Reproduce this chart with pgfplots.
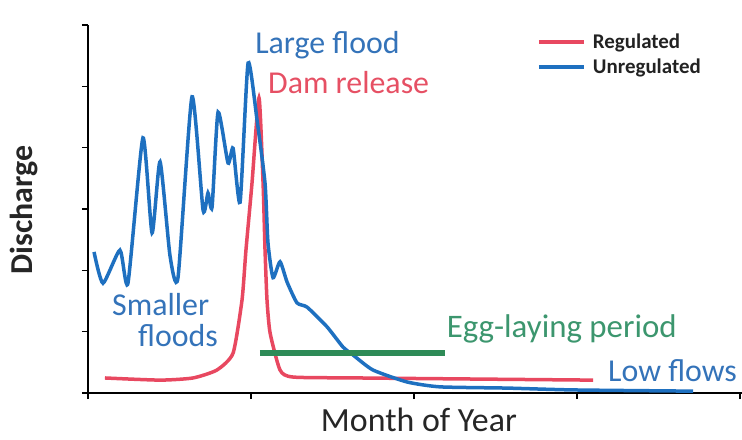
\documentclass[border=0pt]{standalone}
\usepackage{pgfplots}
\pgfplotsset{compat=1.18}
\usepackage{fontspec}
\setmainfont{Carlito}

\definecolor{flowblue}{RGB}{30,112,192}
\definecolor{flowred}{RGB}{232,72,96}
\definecolor{egggreen}{RGB}{46,139,87}
\definecolor{txtblue}{RGB}{52,115,185}
\definecolor{txtred}{RGB}{230,80,100}
\definecolor{txtgreen}{RGB}{60,150,110}

\begin{document}
\begin{tikzpicture}
\useasboundingbox (0,0) rectangle (742bp,440bp);
\begin{axis}[
    at={(88bp,47bp)}, anchor=south west,
    scale only axis,
    width=654bp, height=368bp,
    xmin=0, xmax=4.012, ymin=0, ymax=6,
    axis lines=left,
    axis line style={-, line width=2bp, black},
    xtick={0,1,2,3,4}, ytick={0,1,2,3,4,5,6},
    xticklabels={}, yticklabels={},
    tick align=outside,
    major tick length=6bp,
    tick style={line width=1.6bp, black},
    clip=false,
    legend style={at={(0.6865,0.9755)}, anchor=north west, draw=none, fill=none,
        inner sep=0pt, outer sep=0pt,
        nodes={inner sep=0pt},
        font=\fontsize{21}{23}\selectfont\bfseries\color[RGB]{34,34,34},
        row sep=9bp, column sep=7bp},
    legend cell align=left,
    legend image code/.code={\draw[#1, line width=4bp] (0bp,0bp) -- (45bp,0bp);},
]
% Regulated
\addplot[flowred, line width=3.5bp, smooth, tension=0.35] coordinates {
(0.104,0.245) (0.442,0.21) (0.644,0.245) (0.791,0.375) (0.890,0.65)
(0.945,1.52) (0.969,2.33) (1.006,3.42) (1.049,4.81) (1.074,3.42)
(1.086,2.33) (1.098,1.52) (1.117,0.98) (1.178,0.375) (1.258,0.26)
(1.669,0.245) (3.098,0.21)
};
\addlegendentry{Regulated}
% Unregulated
\addplot[flowblue, line width=3.5bp, smooth, tension=0.35] coordinates {
(0.037,2.30) (0.092,1.79) (0.196,2.33) (0.245,1.79) (0.337,4.16)
(0.393,2.61) (0.442,3.77) (0.503,2.24) (0.552,1.88) (0.638,4.83)
(0.706,2.98) (0.736,3.26) (0.761,3.03) (0.798,4.58) (0.859,3.75)
(0.890,3.99) (0.933,3.11) (0.982,5.38) (1.037,4.45) (1.086,3.42)
(1.104,2.45) (1.135,1.88) (1.178,2.14) (1.221,1.81) (1.282,1.47)
(1.344,1.40) (1.466,1.08) (1.564,0.75) (1.626,0.62) (1.748,0.375)
(1.957,0.18) (2.160,0.10) (2.571,0.08) (2.975,0.05) (3.712,0.03)
};
\addlegendentry{Unregulated}
% Egg-laying period
\addplot[egggreen, line width=6bp, forget plot] coordinates {(1.055,0.65) (2.190,0.65)};

\tikzset{ann/.style={anchor=base west, inner sep=0pt, font=\fontsize{32}{34}\selectfont}}
\node[ann, txtblue] at (axis cs:1.025,5.54) {Large flood};
\node[ann, txtred] at (axis cs:1.104,4.89) {Dam release};
\node[ann, txtblue] at (axis cs:0.147,1.27) {Smaller};
\node[ann, txtblue] at (axis cs:0.307,0.75) {floods};
\node[ann, txtgreen, font=\fontsize{33}{35}\selectfont] at (axis cs:2.20,0.91) {Egg-laying period};
\node[ann, txtblue] at (axis cs:3.19,0.18) {Low flows};

\node[anchor=base, inner sep=0pt, font=\fontsize{34}{36}\selectfont, text=black!85] at (rel axis cs:0.506,-0.1055) {Month of Year};
\node[inner sep=0pt, font=\fontsize{32}{34}\selectfont\bfseries, text=black!85, rotate=90] at (rel axis cs:-0.098,0.497) {Discharge};
\end{axis}
\end{tikzpicture}
\end{document}
